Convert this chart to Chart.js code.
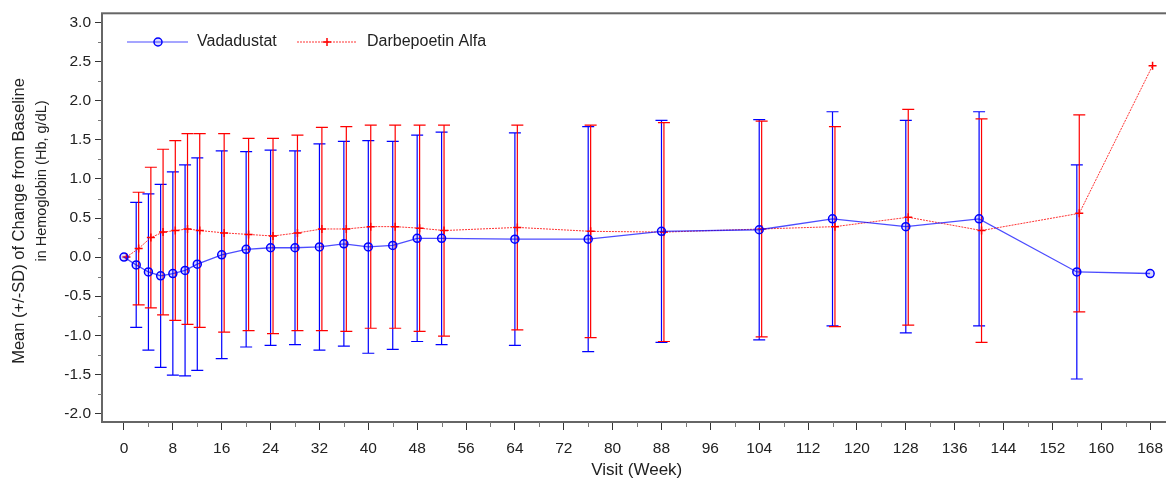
<!DOCTYPE html>
<html>
<head>
<meta charset="utf-8">
<script src="https://cdn.jsdelivr.net/npm/chart.js@4.4.0/dist/chart.umd.min.js"></script>
<style>
  html, body { margin: 0; padding: 0; background: #fff; overflow: hidden; }
  #wrap { position: relative; width: 1177px; height: 481px; }
</style>
</head>
<body>
<div id="wrap"><canvas id="hbChart"></canvas></div>
<script>

// visits (week) and mean / SD of change from baseline in Hb (g/dL)
const weeks = [0, 2, 4, 6, 8, 10, 12, 16, 20, 24, 28, 32, 36, 40, 44, 48, 52, 64, 76, 88, 104, 116, 128, 140, 156, 168];

const vadaMean = [0, -0.10, -0.19, -0.24, -0.21, -0.17, -0.09, 0.03, 0.10, 0.12, 0.12, 0.13, 0.17, 0.13, 0.15, 0.24, 0.24, 0.23, 0.23, 0.33, 0.35, 0.49, 0.39, 0.49, -0.19, -0.21];
const vadaSD = [null, 0.80, 1.00, 1.17, 1.30, 1.35, 1.36, 1.33, 1.25, 1.25, 1.24, 1.32, 1.31, 1.36, 1.33, 1.32, 1.36, 1.36, 1.44, 1.42, 1.41, 1.37, 1.36, 1.37, 1.37, null];

const darbeMean = [0, 0.11, 0.25, 0.32, 0.34, 0.36, 0.34, 0.31, 0.29, 0.27, 0.31, 0.36, 0.36, 0.39, 0.39, 0.37, 0.34, 0.38, 0.33, 0.32, 0.36, 0.39, 0.51, 0.34, 0.56, 2.45];
const darbeSD = [null, 0.72, 0.90, 1.06, 1.15, 1.22, 1.24, 1.27, 1.23, 1.25, 1.25, 1.30, 1.31, 1.30, 1.30, 1.32, 1.35, 1.31, 1.36, 1.40, 1.38, 1.28, 1.38, 1.43, 1.26, null];

const xTicks = [0, 8, 16, 24, 32, 40, 48, 56, 64, 72, 80, 88, 96, 104, 112, 120, 128, 136, 144, 152, 160, 168];
const xMinorTicks = [4, 12, 20, 28, 36, 44, 52, 60, 68, 76, 84, 92, 100, 108, 116, 124, 132, 140, 148, 156, 164];
const yTicks = [-2.0, -1.5, -1.0, -0.5, 0.0, 0.5, 1.0, 1.5, 2.0, 2.5, 3.0];
const yMinorTicks = [-1.75, -1.25, -0.75, -0.25, 0.25, 0.75, 1.25, 1.75, 2.25, 2.75];

const seriesNames = ['Vadadustat', 'Darbepoetin Alfa'];
const yTitle = ['Mean (+/-SD) of Change from Baseline', 'in Hemoglobin (Hb, g/dL)'];
const xTitle = 'Visit (Week)';

// darbepoetin markers are nudged a little to the right in the original
const darbeShift = 0.4;

const FONT = "'Liberation Sans', Arial, sans-serif";
const BLUE = 'rgb(0, 0, 255)';
const RED = 'rgb(255, 0, 0)';

function toPoints(xs, ys, shift) {
  return xs.map((w, i) => ({ x: w + shift, y: ys[i] }));
}

// mean +/- SD bars, drawn under the lines
const errorBars = {
  id: 'errorBars',
  beforeDatasetsDraw(chart) {
    const ctx = chart.ctx;
    const xs = chart.scales.x, ys = chart.scales.y;
    chart.data.datasets.forEach((ds) => {
      ctx.save();
      ctx.strokeStyle = ds.barColor;
      ctx.lineWidth = 1.2;
      ds.data.forEach((p, i) => {
        const sd = ds.sd[i];
        if (sd == null) return;
        const px = xs.getPixelForValue(p.x);
        const top = ys.getPixelForValue(p.y + sd);
        const bot = ys.getPixelForValue(p.y - sd);
        ctx.beginPath();
        ctx.moveTo(px, top); ctx.lineTo(px, bot);
        ctx.moveTo(px - 6, top); ctx.lineTo(px + 6, top);
        ctx.moveTo(px - 6, bot); ctx.lineTo(px + 6, bot);
        ctx.stroke();
      });
      ctx.restore();
    });
  }
};

// frame, minor ticks, y title and legend inside the plot
const decorations = {
  id: 'decorations',
  afterDraw(chart) {
    const ctx = chart.ctx;
    const a = chart.chartArea;
    const xs = chart.scales.x, ys = chart.scales.y;

    ctx.save();
    ctx.strokeStyle = '#666';
    ctx.lineWidth = 2;
    ctx.strokeRect(a.left, a.top, a.right - a.left, a.bottom - a.top);

    ctx.strokeStyle = '#777';
    ctx.lineWidth = 1;
    ctx.beginPath();
    xMinorTicks.forEach((v) => {
      const px = Math.round(xs.getPixelForValue(v)) + 0.5;
      ctx.moveTo(px, a.bottom); ctx.lineTo(px, a.bottom + 5);
    });
    yMinorTicks.forEach((v) => {
      const py = Math.round(ys.getPixelForValue(v)) + 0.5;
      ctx.moveTo(a.left, py); ctx.lineTo(a.left - 4, py);
    });
    ctx.stroke();

    // y axis title, two lines
    ctx.fillStyle = '#222';
    ctx.textAlign = 'center';
    ctx.textBaseline = 'middle';
    ctx.save();
    ctx.font = '16.5px ' + FONT;
    ctx.translate(19, 221);
    ctx.rotate(-Math.PI / 2);
    ctx.fillText(yTitle[0], 0, 0);
    ctx.restore();
    ctx.save();
    ctx.font = '14.5px ' + FONT;
    ctx.translate(42, 181);
    ctx.rotate(-Math.PI / 2);
    ctx.fillText(yTitle[1], 0, 0);
    ctx.restore();

    // legend
    const ly = 42;
    ctx.lineWidth = 1.2;
    ctx.strokeStyle = 'rgba(0,0,255,0.7)';
    ctx.beginPath();
    ctx.moveTo(127, ly); ctx.lineTo(188, ly);
    ctx.stroke();
    ctx.strokeStyle = BLUE;
    ctx.beginPath();
    ctx.arc(158, ly, 4, 0, Math.PI * 2);
    ctx.fillStyle = 'rgba(0,0,255,0.15)';
    ctx.fill();
    ctx.lineWidth = 1.5;
    ctx.stroke();

    ctx.strokeStyle = 'rgba(255,0,0,0.8)';
    ctx.lineWidth = 1;
    ctx.setLineDash([2, 1]);
    ctx.beginPath();
    ctx.moveTo(297, ly); ctx.lineTo(357, ly);
    ctx.stroke();
    ctx.setLineDash([]);
    ctx.strokeStyle = RED;
    ctx.lineWidth = 1.5;
    ctx.beginPath();
    ctx.moveTo(323, ly); ctx.lineTo(331, ly);
    ctx.moveTo(327, ly - 4); ctx.lineTo(327, ly + 4);
    ctx.stroke();

    ctx.fillStyle = '#222';
    ctx.font = '16px ' + FONT;
    ctx.textAlign = 'left';
    ctx.fillText(seriesNames[0], 197, ly);
    ctx.fillText(seriesNames[1], 367, ly);
    ctx.restore();
  }
};

const ctx = document.getElementById('hbChart').getContext('2d');
const hbChart = new Chart(ctx, {
  type: 'line',
  data: {
    datasets: [{
      label: seriesNames[0],
      data: toPoints(weeks, vadaMean, 0),
      sd: vadaSD,
      barColor: BLUE,
      borderColor: 'rgba(0,0,255,0.7)',
      borderWidth: 1.3,
      pointStyle: 'circle',
      pointRadius: 4,
      pointBorderWidth: 1.5,
      pointBorderColor: BLUE,
      pointBackgroundColor: 'rgba(0,0,255,0.15)',
      tension: 0
    }, {
      label: seriesNames[1],
      data: toPoints(weeks, darbeMean, darbeShift),
      sd: darbeSD,
      barColor: RED,
      borderColor: 'rgba(255,0,0,0.8)',
      borderWidth: 1,
      borderDash: [2, 1],
      pointStyle: 'cross',
      pointRadius: 4,
      pointBorderWidth: 1.5,
      pointBorderColor: RED,
      pointBackgroundColor: RED,
      tension: 0
    }]
  },
  options: {
    responsive: true,
    maintainAspectRatio: false,
    animation: false,
    layout: { padding: { top: 11, left: 0, right: 0, bottom: 0 } },
    plugins: {
      legend: { display: false },
      tooltip: { enabled: false }
    },
    scales: {
      x: {
        type: 'linear',
        min: -3.6,
        max: 171.5,
        afterBuildTicks: (scale) => { scale.ticks = xTicks.map((v) => ({ value: v })); },
        afterFit: (scale) => { scale.height = 59; },
        grid: { drawOnChartArea: false, drawTicks: true, tickLength: 8, color: '#333' },
        border: { display: false },
        ticks: { autoSkip: false, maxRotation: 0, padding: 9, color: '#222', font: { family: FONT, size: 15.5 } },
        title: { display: true, text: xTitle, color: '#222', padding: { top: 0, bottom: 0 }, font: { family: FONT, size: 17 } }
      },
      y: {
        min: -2.11,
        max: 3.12,
        afterBuildTicks: (scale) => { scale.ticks = yTicks.map((v) => ({ value: v })); },
        afterFit: (scale) => { scale.width = 102; },
        grid: { drawOnChartArea: false, drawTicks: true, tickLength: 7, color: '#333' },
        border: { display: false },
        ticks: { padding: 4, color: '#222', font: { family: FONT, size: 15.5 }, callback: (v) => Number(v).toFixed(1) }
      }
    }
  },
  plugins: [errorBars, decorations]
});
</script>
</body>
</html>
